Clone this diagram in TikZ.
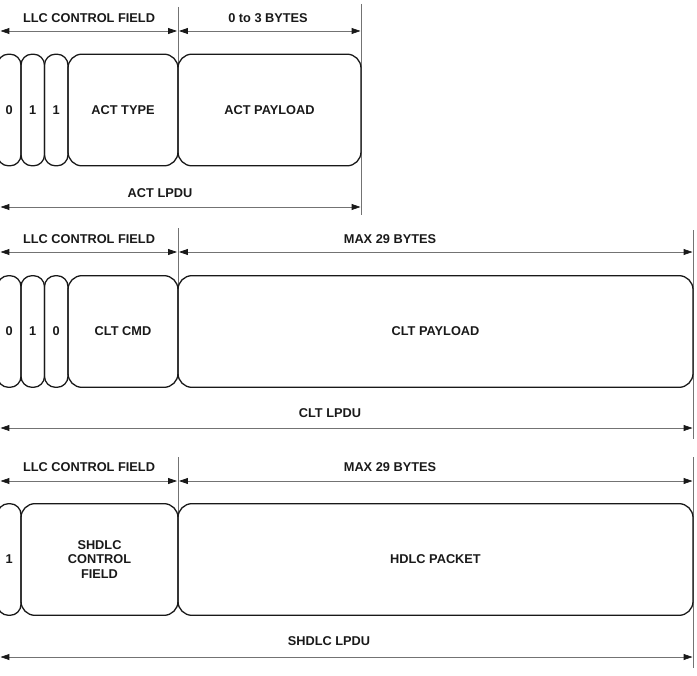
\documentclass[tikz,border=0pt]{standalone}
\usepackage{fontspec}
\setmainfont{Liberation Sans}
\usetikzlibrary{positioning,calc}
\usetikzlibrary{arrows.meta}
\definecolor{DimGray}{RGB}{115,115,115}
\definecolor{InkBlack}{RGB}{25,25,25}
\tikzset{
  fld/.style={draw=InkBlack,line width=1.1pt,rounded corners=0.42cm,inner sep=0pt,
    minimum height=3.35cm,align=center,font=\fontsize{10.9}{12.5}\selectfont\bfseries,text=InkBlack},
  bit/.style={fld,rounded corners=0.33cm,minimum width=0.705cm},
  dim/.style={draw=DimGray,line width=0.6pt,
    {Triangle[length=7.5pt,width=5pt,color=InkBlack]}-{Triangle[length=7.5pt,width=5pt,color=InkBlack]}},
  guide/.style={draw=DimGray,line width=0.6pt},
}
\tikzset{lab/.style={inner sep=0pt,font=\fontsize{10.9}{12.5}\selectfont\bfseries,text=InkBlack}}

\begin{document}
\begin{tikzpicture}[x=0.03cm,y=-0.03cm]
\useasboundingbox (0,0) rectangle (697,676);
% ACT LPDU
\coordinate (aL) at (0.5,31);
\coordinate (aM1) at (177,31);
\coordinate (aM2) at (179,31);
\coordinate (aR) at (360.5,31);
\coordinate (aGt) at (178,7);
\coordinate (aGb) at (178,64);
\coordinate (aRt) at (361,4);
\coordinate (aRb) at (361,215);
\coordinate (aBL) at (0.5,207);
\coordinate (aBR) at (360.5,207);
\draw[guide] (aGt) -- (aGb);
\draw[guide] (aRt) -- (aRb);
\draw[dim] (aL) -- (aM1);
\draw[dim] (aM2) -- (aR);
\draw[dim] (aBL) -- (aBR);
\node[bit] (a0) at (9.25,110) {0};
\node[bit] (a1) at (32.75,110) {1};
\node[bit] (a2) at (56.25,110) {1};
\node[fld,minimum width=3.3cm] (atype) at (123,110) {ACT TYPE};
\node[fld,minimum width=5.49cm] (apay) at (269.5,110) {ACT PAYLOAD};
\node[lab] (llcA) at (89,18) {LLC CONTROL FIELD};
\node[lab] (bytesA) at (268,18) {0 to 3 BYTES};
\node[lab] (lpduA) at (160,193) {ACT LPDU};
% CLT LPDU
\coordinate (bL) at (0.5,252);
\coordinate (bM1) at (177,252);
\coordinate (bM2) at (179,252);
\coordinate (bR) at (692.5,252);
\coordinate (bGt) at (178,228);
\coordinate (bGb) at (178,286);
\coordinate (bRt) at (693,230);
\coordinate (bRb) at (693,439);
\coordinate (bBL) at (0.5,428);
\coordinate (bBR) at (692.5,428);
\draw[guide] (bGt) -- (bGb);
\draw[guide] (bRt) -- (bRb);
\draw[dim] (bL) -- (bM1);
\draw[dim] (bM2) -- (bR);
\draw[dim] (bBL) -- (bBR);
\node[bit] (b0) at (9.25,331.5) {0};
\node[bit] (b1) at (32.75,331.5) {1};
\node[bit] (b2) at (56.25,331.5) {0};
\node[fld,minimum width=3.3cm] (bcmd) at (123,331.5) {CLT CMD};
\node[fld,minimum width=15.45cm] (bpay) at (435.5,331.5) {CLT PAYLOAD};
\node[lab] (llcB) at (89,239) {LLC CONTROL FIELD};
\node[lab] (bytesB) at (390,239) {MAX 29 BYTES};
\node[lab] (lpduB) at (330,413) {CLT LPDU};
% SHDLC LPDU
\coordinate (cL) at (0.5,481);
\coordinate (cM1) at (177,481);
\coordinate (cM2) at (179,481);
\coordinate (cR) at (692.5,481);
\coordinate (cGt) at (178,457);
\coordinate (cGb) at (178,513);
\coordinate (cRt) at (693,457);
\coordinate (cRb) at (693,668);
\coordinate (cBL) at (0.5,657);
\coordinate (cBR) at (692.5,657);
\draw[guide] (cGt) -- (cGb);
\draw[guide] (cRt) -- (cRb);
\draw[dim] (cL) -- (cM1);
\draw[dim] (cM2) -- (cR);
\draw[dim] (cBL) -- (cBR);
\node[bit] (c0) at (9.25,559.5) {1};
\node[fld,minimum width=4.71cm] (cctl) at (99.5,559.5) {SHDLC\\CONTROL\\FIELD};
\node[fld,minimum width=15.45cm] (cpkt) at (435.5,559.5) {HDLC PACKET};
\node[lab] (llcC) at (89,467) {LLC CONTROL FIELD};
\node[lab] (bytesC) at (390,467) {MAX 29 BYTES};
\node[lab] (lpduC) at (329,641) {SHDLC LPDU};
\end{tikzpicture}
\end{document}
